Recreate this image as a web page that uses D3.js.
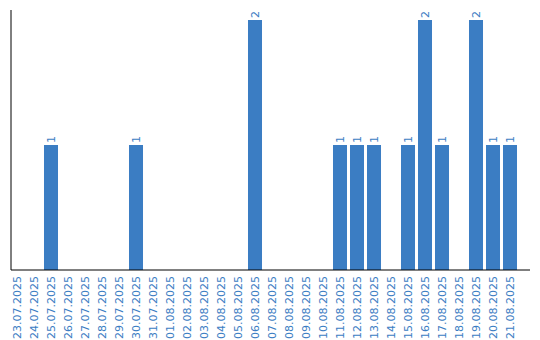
<!DOCTYPE html>
<html>
<head>
<meta charset="utf-8">
<script src="https://cdn.jsdelivr.net/npm/d3@7"></script>
<style>
  body { margin: 0; background: #fff; }
  text { font-family: "DejaVu Sans", Verdana, sans-serif; }
</style>
</head>
<body>
<script>
// data
const dates = ["23.07.2025", "24.07.2025", "25.07.2025", "26.07.2025", "27.07.2025", "28.07.2025",
    "29.07.2025", "30.07.2025", "31.07.2025", "01.08.2025", "02.08.2025", "03.08.2025",
    "04.08.2025", "05.08.2025", "06.08.2025", "07.08.2025", "08.08.2025", "09.08.2025",
    "10.08.2025", "11.08.2025", "12.08.2025", "13.08.2025", "14.08.2025", "15.08.2025",
    "16.08.2025", "17.08.2025", "18.08.2025", "19.08.2025", "20.08.2025", "21.08.2025"];
const counts = [0, 0, 1, 0, 0, 0, 0, 1, 0, 0, 0, 0, 0, 0, 2, 0, 0, 0, 0, 1, 1, 1, 0, 1, 2, 1, 0, 2, 1, 1];

const width = 540, height = 340;
const blue = "#3b7dc3";

const svg = d3.select("body").append("svg")
    .attr("width", width)
    .attr("height", height);

const x = d3.scaleBand()
    .domain(dates)
    .range([8.5, 518.5])
    .paddingInner(0.176)
    .paddingOuter(0.088);

const y = d3.scaleLinear()
    .domain([0, 2])
    .range([270, 20]);

// bars
svg.selectAll(".bar")
    .data(dates.map((d, i) => ({date: d, v: counts[i]})).filter(d => d.v > 0))
    .enter().append("rect")
    .attr("class", "bar")
    .attr("x", d => x(d.date))
    .attr("y", d => y(d.v))
    .attr("width", x.bandwidth())
    .attr("height", d => y(0) - y(d.v))
    .style("fill", blue);

// value labels
svg.selectAll(".val")
    .data(dates.map((d, i) => ({date: d, v: counts[i]})).filter(d => d.v > 0))
    .enter().append("text")
    .attr("class", "val")
    .attr("transform", d => "translate(" + (x(d.date) + x.bandwidth() / 2 + 4) + "," + (y(d.v) - 2) + ") rotate(-90)")
    .text(d => d.v)
    .style("font-size", "11px")
    .style("fill", blue);

// x axis
const xAxis = svg.append("g")
    .attr("transform", "translate(0," + y(0) + ")")
    .call(d3.axisBottom(x).tickSize(0).tickPadding(0));
xAxis.select(".domain").remove();
xAxis.selectAll("text")
    .attr("transform", "rotate(-90)")
    .attr("text-anchor", "end")
    .attr("x", -6)
    .attr("y", 0)
    .attr("dy", "0.35em")
    .style("font-size", "11px")
    .style("font-family", "DejaVu Sans, Verdana, sans-serif")
    .style("fill", blue);

svg.append("line")
    .attr("x1", 11).attr("x2", 530)
    .attr("y1", y(0)).attr("y2", y(0))
    .style("stroke", "#000");

svg.append("line")
    .attr("x1", 11).attr("x2", 11)
    .attr("y1", 10).attr("y2", y(0))
    .style("stroke", "#000");
</script>
</body>
</html>
